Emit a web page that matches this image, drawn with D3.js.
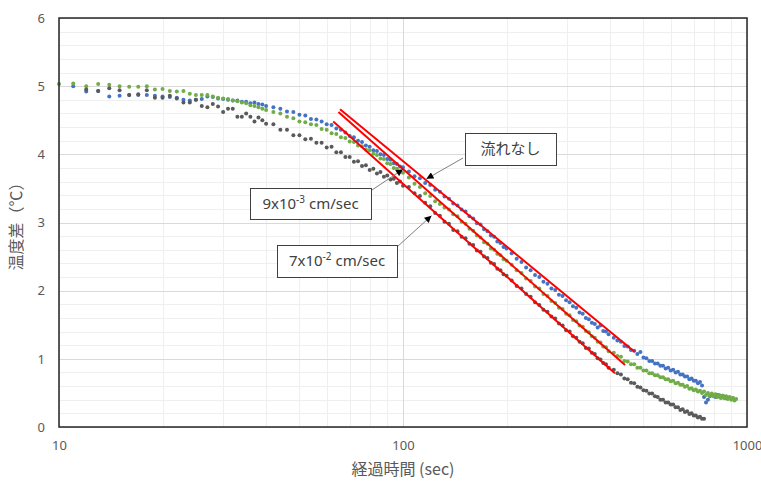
<!DOCTYPE html>
<meta charset="utf-8">
<style>
body { margin: 0; background: #fff; }
.grid-minor { stroke: #efefef; stroke-width: 1px; shape-rendering: crispEdges; }
.grid-major { stroke: #d9d9d9; stroke-width: 1px; shape-rendering: crispEdges; }
.frame { fill: none; stroke: #262626; stroke-width: 1.5px; }
.tick text { font-family: "Noto Sans", sans-serif; font-size: 13px; fill: #595959; }
.trend { fill: none; stroke: #ff0000; stroke-width: 2px; }
.callout rect { fill: #fff; stroke: #404040; stroke-width: 1px; shape-rendering: crispEdges; }
.callout text { font-family: "Noto Sans", "Noto Sans CJK JP", sans-serif; font-size: 15px; fill: #404040; }
.leader { stroke: #7f7f7f; stroke-width: 1px; }
.title { font-family: "Noto Sans CJK JP", sans-serif; fill: #595959; }
</style>
<body>
<script src="https://d3js.org/d3.v7.min.js"></script>
<script>
// elapsed time (sec)
var times = [
  10,11,12,13,14,15,16,17,18,19,20,21,22,23,24,25,26,27,28,29,30,31,32,33,34,35,36,37,38,39,40,
  42,44,46,48,50,52,54,56,58,60,62,64,66,68,70,72,74,76,78,80,82,84,86,88,90,92,94,96,98,100,
  104,108,112,116,120,124,128,132,136,140,144,148,152,156,160,164,168,172,176,180,184,188,192,196,200,
  207,214,221,228,235,242,249,256,263,270,277,284,291,298,305,312,319,326,333,340,347,354,361,368,375,382,389,396,
  410,420,430,440,450,460,470,480,490,500,510,520,530,540,550,560,570,580,590,600,610,620,630,640,650,
  660,670,680,690,700,710,720,730,740,750,760,770,780,790,800,810,820,830,840,850,860,870,880,890,900,
  910,920,930
];

// 流れなし
var noFlow = [
  null,5.00,4.92,4.93,4.85,4.86,4.87,4.87,4.87,4.86,4.85,4.84,4.83,4.80,4.79,4.80,4.81,4.85,4.84,4.82,4.81,4.80,4.79,4.79,4.77,4.77,4.75,4.76,4.74,4.73,4.71,
  4.69,4.67,4.63,4.62,4.58,4.57,4.52,4.51,4.48,4.44,4.43,4.38,4.36,4.32,4.27,4.25,4.20,4.18,4.13,4.11,4.06,4.05,4.00,3.99,3.93,3.92,3.87,3.86,3.82,3.81,
  3.75,3.68,3.65,3.58,3.55,3.48,3.45,3.38,3.35,3.28,3.25,3.19,3.16,3.09,3.06,2.99,2.97,2.90,2.87,2.81,2.79,2.72,2.70,2.64,2.62,
  2.55,2.47,2.42,2.34,2.30,2.23,2.20,2.13,2.10,2.03,2.01,1.94,1.92,1.86,1.83,1.77,1.75,1.68,1.66,1.60,1.58,1.53,1.51,1.46,1.49,1.41,1.40,1.36,
  1.31,1.27,1.25,1.19,1.18,1.13,1.12,1.07,1.10,1.02,1.01,0.97,0.97,0.93,0.93,0.90,0.90,0.86,0.87,0.83,0.84,0.80,0.81,0.77,0.77,
  0.74,0.74,0.70,0.71,0.68,0.68,0.64,0.66,0.61,0.44,0.36,0.40,0.45,0.47,0.46,0.44,0.47,0.45,0.43,0.46,0.44,0.42,null,null,null,
  null,null,null
];

// 9x10^-3 cm/sec
var flowSlow = [
  5.03,5.04,5.00,5.03,5.02,5.00,4.99,4.99,5.00,4.95,4.96,4.93,4.92,4.93,4.89,4.87,4.87,4.87,4.85,4.83,4.82,4.81,4.79,4.78,4.76,4.75,4.72,4.71,4.69,4.67,4.65,
  4.62,4.60,4.55,4.53,4.48,4.47,4.44,4.43,4.37,4.36,4.31,4.30,4.25,4.24,4.19,4.18,4.13,4.12,4.07,4.06,4.01,3.99,3.94,3.93,3.87,3.86,3.80,3.79,3.74,3.73,
  3.66,3.57,3.52,3.43,3.39,3.31,3.27,3.22,3.19,3.12,3.09,3.01,2.98,2.91,2.88,2.81,2.78,2.71,2.69,2.62,2.60,2.54,2.52,2.46,2.44,
  2.38,2.30,2.26,2.18,2.14,2.06,2.03,1.95,1.92,1.85,1.82,1.75,1.73,1.66,1.64,1.57,1.55,1.49,1.47,1.41,1.39,1.33,1.31,1.25,1.24,1.18,1.17,1.11,
  1.09,1.04,1.03,0.97,0.96,0.92,0.92,0.87,0.87,0.83,0.83,0.79,0.79,0.76,0.76,0.73,0.73,0.70,0.70,0.67,0.68,0.64,0.65,0.62,0.62,
  0.59,0.60,0.56,0.57,0.54,0.55,0.52,0.53,0.50,0.52,0.47,0.50,0.46,0.49,0.45,0.48,0.44,0.47,0.43,0.46,0.42,0.45,0.41,0.44,0.40,
  0.43,0.39,0.41
];

// 7x10^-2 cm/sec
var flowFast = [
  null,null,4.95,4.93,4.97,4.94,4.87,4.88,4.94,4.83,4.83,4.86,4.82,4.76,4.76,4.80,4.71,4.69,4.74,4.70,4.62,4.67,4.67,4.55,4.55,4.60,4.55,4.48,4.54,4.50,4.45,
  4.44,4.36,4.36,4.28,4.28,4.22,4.23,4.17,4.17,4.10,4.11,4.03,4.03,3.96,3.96,3.89,3.90,3.83,3.84,3.77,3.79,3.72,3.74,3.67,3.69,3.63,3.64,3.58,3.60,3.54,
  3.52,3.43,3.39,3.29,3.24,3.14,3.10,3.01,2.98,2.89,2.87,2.79,2.77,2.69,2.67,2.59,2.57,2.50,2.48,2.41,2.39,2.32,2.30,2.24,2.22,
  2.15,2.07,2.03,1.95,1.91,1.83,1.79,1.72,1.69,1.62,1.59,1.52,1.49,1.42,1.40,1.33,1.31,1.25,1.23,1.16,1.15,1.09,1.07,1.01,0.99,0.94,0.92,0.87,
  0.84,0.79,0.77,0.71,0.70,0.65,0.64,0.59,0.58,0.54,0.53,0.49,0.49,0.45,0.44,0.40,0.40,0.36,0.36,0.33,0.33,0.29,0.29,0.25,0.26,
  0.22,0.23,0.19,0.20,0.17,0.17,0.14,0.15,0.12,0.12,null,null,null,null,null,null,null,null,null,null,null,null,null,null,null,
  null,null,null
];

// red trend lines (start / end)
var trendTimes = [[65.6, 472], [64.9, 442], [62.7, 413]];
var trendTemps = [[4.66, 1.10], [4.62, 0.91], [4.48, 0.79]];

// callouts
var calloutText = ['流れなし', '9x10', '7x10'];
var calloutSup = ['', '-3', '-2'];
var calloutUnit = ['', ' cm/sec', ' cm/sec'];
var arrowTime = [117, 100, 121];
var arrowTemp = [3.64, 3.78, 3.10];

var yTicks = [0, 1, 2, 3, 4, 5, 6];
var xTicks = [10, 100, 1000];

var width = 761,
    height = 481;
var plotL = 59, plotR = 747, plotT = 18, plotB = 427;

var svg = d3.select('body').append('svg')
    .attr('width', width)
    .attr('height', height);

var x = d3.scaleLog().domain([10, 1000]).range([plotL, plotR]);
var y = d3.scaleLinear().domain([0, 6]).range([plotB, plotT]);

// grid
var minorY = d3.range(0, 6.001, 0.2);
svg.append('g').selectAll('line').data(minorY).enter().append('line')
    .attr('class', 'grid-minor')
    .attr('x1', plotL).attr('x2', plotR)
    .attr('y1', function(d) { return Math.round(y(d)) + 0.5; })
    .attr('y2', function(d) { return Math.round(y(d)) + 0.5; });
svg.append('g').selectAll('line').data(x.ticks()).enter().append('line')
    .attr('class', 'grid-minor')
    .attr('y1', plotT).attr('y2', plotB)
    .attr('x1', function(d) { return Math.round(x(d)) + 0.5; })
    .attr('x2', function(d) { return Math.round(x(d)) + 0.5; });
svg.append('g').selectAll('line').data(yTicks).enter().append('line')
    .attr('class', 'grid-major')
    .attr('x1', plotL).attr('x2', plotR)
    .attr('y1', function(d) { return Math.round(y(d)) + 0.5; })
    .attr('y2', function(d) { return Math.round(y(d)) + 0.5; });
svg.append('g').selectAll('line').data(xTicks).enter().append('line')
    .attr('class', 'grid-major')
    .attr('y1', plotT).attr('y2', plotB)
    .attr('x1', function(d) { return Math.round(x(d)) + 0.5; })
    .attr('x2', function(d) { return Math.round(x(d)) + 0.5; });

// points
var series = [
  { vals: noFlow, color: '#4472c4' },
  { vals: flowSlow, color: '#70ad47' },
  { vals: flowFast, color: '#5a5a5a' }
];
series.forEach(function(s) {
  var pts = times.map(function(t, i) { return [t, s.vals[i]]; })
      .filter(function(d) { return d[1] != null; });
  svg.append('g').selectAll('circle').data(pts).enter().append('circle')
      .attr('cx', function(d) { return x(d[0]); })
      .attr('cy', function(d) { return y(d[1]); })
      .attr('r', 2)
      .attr('fill', s.color);
});

// trend lines
var line = d3.line()
    .x(function(d) { return x(d[0]); })
    .y(function(d) { return y(d[1]); });
trendTimes.forEach(function(tt, i) {
  svg.append('path')
      .attr('class', 'trend')
      .attr('d', line([[tt[0], trendTemps[i][0]], [tt[1], trendTemps[i][1]]]));
});

// frame
svg.append('rect')
    .attr('class', 'frame')
    .attr('x', plotL).attr('y', plotT)
    .attr('width', plotR - plotL).attr('height', plotB - plotT);

// axes
var yAxis = svg.append('g')
    .attr('transform', 'translate(' + plotL + ',0)')
    .call(d3.axisLeft(y).tickValues(yTicks).tickSize(0).tickPadding(14).tickFormat(d3.format('d')));
yAxis.select('.domain').remove();
var xAxis = svg.append('g')
    .attr('transform', 'translate(0,' + plotB + ')')
    .call(d3.axisBottom(x).tickValues(xTicks).tickSize(0).tickPadding(14).tickFormat(d3.format('d')));
xAxis.select('.domain').remove();

svg.append('text')
    .attr('class', 'title')
    .attr('x', (plotL + plotR) / 2)
    .attr('y', 471)
    .attr('text-anchor', 'middle')
    .attr('dominant-baseline', 'middle')
    .style('font-size', '16px')
    .text('経過時間 (sec)');
svg.append('text')
    .attr('class', 'title')
    .attr('transform', 'translate(18,' + (plotT + plotB) / 2 + ') rotate(-90)')
    .attr('text-anchor', 'middle')
    .attr('dominant-baseline', 'middle')
    .style('font-size', '16px')
    .text('温度差（℃）');

// callouts
svg.append('defs').append('marker')
    .attr('id', 'arrow')
    .attr('viewBox', '0 0 10 10')
    .attr('refX', 10).attr('refY', 5)
    .attr('markerUnits', 'userSpaceOnUse')
    .attr('markerWidth', 8).attr('markerHeight', 7)
    .attr('orient', 'auto')
  .append('path')
    .attr('d', 'M0,0L10,5L0,10z')
    .attr('fill', '#000');

var boxes = [[465, 133, 91, 32], [250, 188, 121, 31], [277, 245, 120, 32]];
var tails = [[463, 158], [372, 190], [397, 247]];

calloutText.forEach(function(txt, i) {
  svg.append('line')
      .attr('class', 'leader')
      .attr('x1', tails[i][0]).attr('y1', tails[i][1])
      .attr('x2', x(arrowTime[i])).attr('y2', y(arrowTemp[i]))
      .attr('marker-end', 'url(#arrow)');
  var b = boxes[i];
  var g = svg.append('g').attr('class', 'callout');
  g.append('rect').attr('x', b[0] + 0.5).attr('y', b[1] + 0.5).attr('width', b[2]).attr('height', b[3]);
  var t = g.append('text')
      .attr('x', b[0] + b[2] / 2)
      .attr('y', b[1] + b[3] / 2 + 5)
      .attr('text-anchor', 'middle');
  t.append('tspan').text(txt);
  if (calloutSup[i]) {
    t.append('tspan').attr('dy', -6).style('font-size', '10px').text(calloutSup[i]);
    t.append('tspan').attr('dy', 6).text(calloutUnit[i]);
  }
});
</script>
</body>
</html>
